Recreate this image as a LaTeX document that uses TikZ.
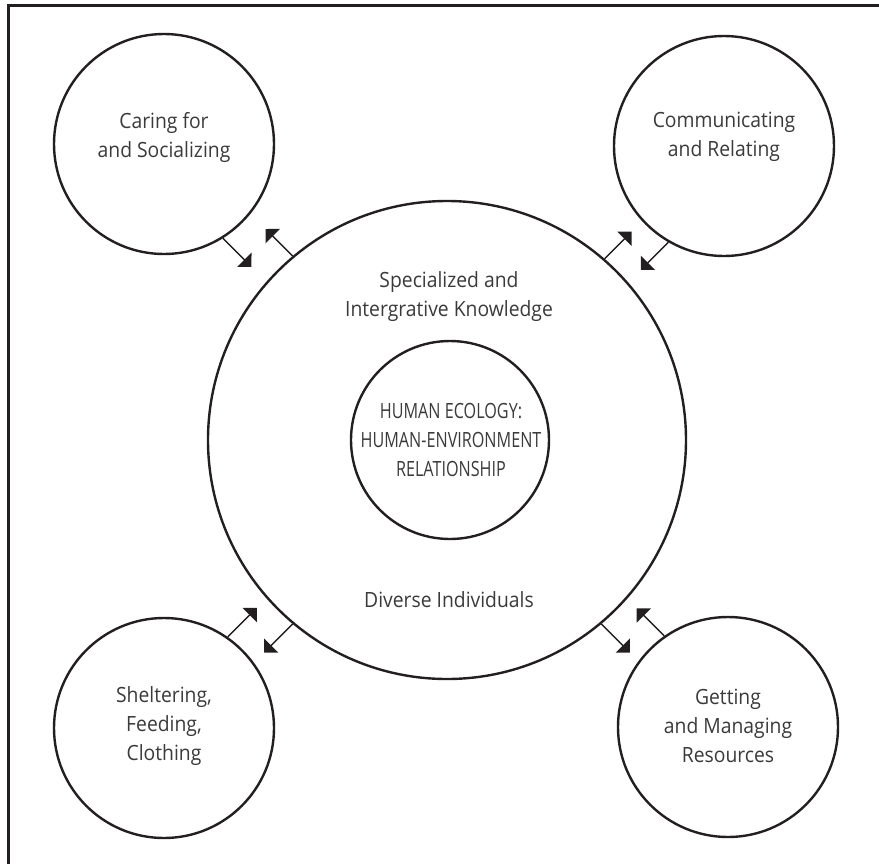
\documentclass[tikz,border=0pt]{standalone}
\usepackage{fontspec}
\setmainfont{Open Sans}[FakeStretch=0.92]
\newfontfamily\capsfont{Open Sans}[FakeStretch=0.77]
\usetikzlibrary{arrows.meta}
\definecolor{ink}{HTML}{231F20}
\definecolor{txt}{HTML}{3A3A3A}
\begin{document}
\begin{tikzpicture}[x=1pt,y=-1pt,
  ring/.style={circle,draw=ink,line width=2.4pt,inner sep=0pt,minimum size=#1},
  lbl/.style={text=txt,align=center,inner sep=0pt,font=\fontsize{21}{29}\selectfont},
  flow/.style={draw=ink,line width=1.4pt,-{Triangle[length=10pt,width=20pt]}},
  frameline/.style={draw=ink,line width=3.3pt}]
\useasboundingbox (0,0) rectangle (879,863);

% open frame: top and left rules
\draw[frameline] (8.3,880) -- (8.3,5.7) -- (890,5.7);

% central rings
\node[ring=478pt] (big) at (447,440) {};
\node[ring=198pt] (core) at (450,440) {};

% four surrounding activities
\node[ring=220pt] (tl) at (164,144) {};
\node[ring=220pt] (tr) at (724,146) {};
\node[ring=220pt] (bl) at (164,728) {};
\node[ring=220pt] (br) at (728,727) {};

% labels
\node[lbl] (tltxt) at (164,137) {Caring for\\and Socializing};
\node[lbl] (trtxt) at (724,137) {Communicating\\and Relating};
\node[lbl] (bltxt) at (164,726) {Sheltering,\\Feeding,\\Clothing};
\node[lbl] (brtxt) at (728,726) {Getting\\and Managing\\Resources};
\node[lbl,font=\capsfont\fontsize{21}{29}\selectfont] (coretxt) at (451,440)
  {HUMAN ECOLOGY:\\HUMAN-ENVIRONMENT\\RELATIONSHIP};
\node[lbl] (knowtxt) at (449,297) {Specialized and\\Intergrative Knowledge};
\node[lbl] (divtxt) at (449,600) {Diverse Individuals};

% two-way exchanges between each activity and the centre
\draw[flow] (tl.-58) -- ++(28.5,28.5);
\draw[flow] (big.130.4) -- ++(-27,-27);
\draw[flow] (big.49.5) -- ++(27,-27);
\draw[flow] (tr.-120) -- ++(-27.5,27.5);
\draw[flow] (bl.55) -- ++(29,-29);
\draw[flow] (big.-130) -- ++(-28.5,28.5);
\draw[flow] (big.-50) -- ++(28.5,28.5);
\draw[flow] (br.125) -- ++(-27.5,-27.5);
\end{tikzpicture}
\end{document}
